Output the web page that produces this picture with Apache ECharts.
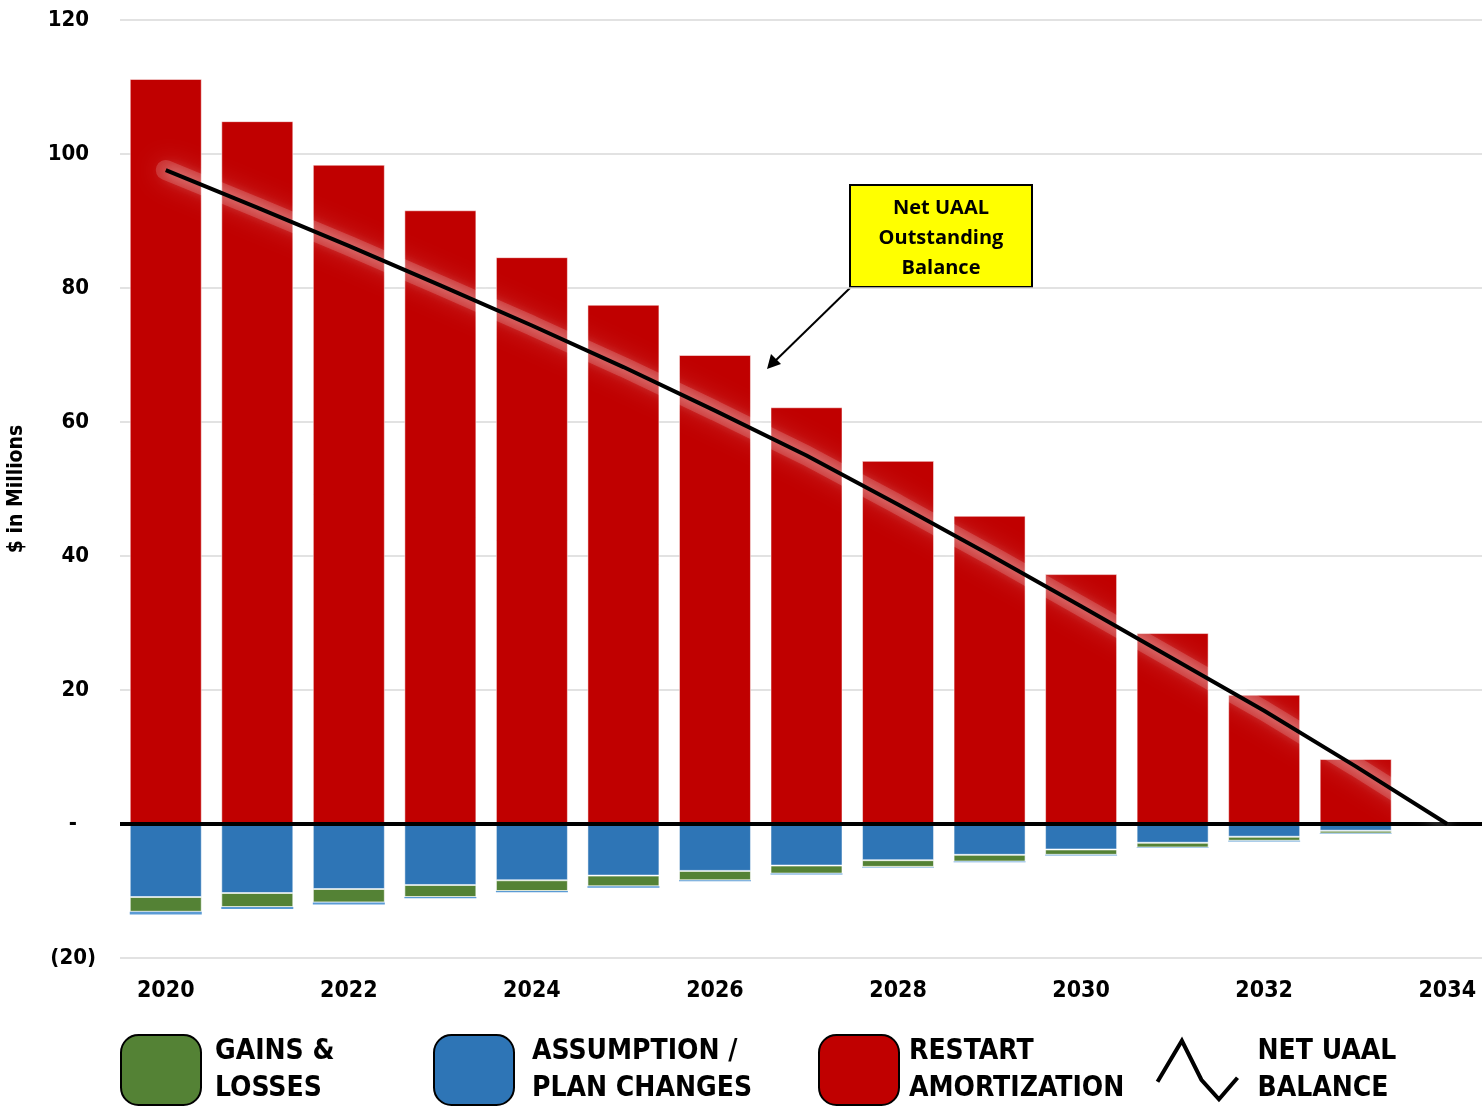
<!DOCTYPE html>
<html>
<head>
<meta charset="utf-8">
<script src="https://cdn.jsdelivr.net/npm/echarts@6/dist/echarts.min.js"></script>
<style>
  html, body { margin: 0; padding: 0; background: #fff; }
  #uaalChart { width: 1482px; height: 1106px; }
</style>
</head>
<body>
<div id="uaalChart"></div>
<script>
const years = ['2020', '2021', '2022', '2023', '2024', '2025', '2026', '2027', '2028', '2029', '2030', '2031', '2032', '2033', '2034']
const restartAmortization = [111.2, 104.9, 98.4, 91.6, 84.6, 77.5, 70.0, 62.2, 54.2, 46.0, 37.3, 28.5, 19.3, 9.7, 0]
const assumptionChanges = [-10.9, -10.3, -9.7, -9.1, -8.4, -7.7, -7.0, -6.2, -5.4, -4.6, -3.8, -2.8, -1.9, -1.0, 0]
const gainsLosses = [-2.2, -2.1, -2.0, -1.8, -1.6, -1.6, -1.4, -1.2, -1.0, -1.0, -0.8, -0.7, -0.6, -0.4, 0]
const otherChanges = [-0.4, -0.3, -0.3, -0.2, -0.2, -0.2, -0.15, -0.15, -0.1, -0.1, -0.1, -0.1, -0.1, -0.1, 0]
const netUaalBalance = [97.6, 92.0, 86.3, 80.4, 74.4, 68.2, 61.7, 55.0, 47.7, 40.2, 32.5, 24.7, 16.9, 8.6, 0]
const yTicks = { min: -20, max: 120, step: 20 }

const narrow = "'Liberation Sans Narrow', 'Arial Narrow', 'DejaVu Sans Condensed', sans-serif"

const legendNames = {
  'Gains & Losses': 'GAINS &\nLOSSES',
  'Assumption / Plan Changes': 'ASSUMPTION /\nPLAN CHANGES',
  'Restart Amortization': 'RESTART\nAMORTIZATION',
  'Net UAAL Balance': 'NET UAAL\nBALANCE'
}

function legendAt(name, left, icon, style, gap) {
  return {
    data: [name],
    left: left,
    top: 1033,
    padding: 0,
    orient: 'horizontal',
    selectedMode: false,
    itemWidth: 80,
    itemHeight: 70,
    icon: icon,
    itemStyle: style,
    formatter: (n) => legendNames[n],
    textStyle: {
      fontFamily: narrow,
      fontWeight: 'bold',
      fontSize: 28,
      lineHeight: 37,
      color: '#000',
      padding: [0, 0, 0, gap]
    }
  }
}

const boxStyle = { borderColor: '#000', borderWidth: 2 }

const chart = echarts.init(document.getElementById('uaalChart'))

chart.setOption({
  animation: false,
  grid: {
    left: 120,
    top: 20,
    width: 1373,
    height: 938,
    outerBoundsMode: 'none'
  },
  legend: [
    legendAt('Gains & Losses', 120, 'roundRect', boxStyle, 9),
    legendAt('Assumption / Plan Changes', 433, 'roundRect', boxStyle, 13),
    legendAt('Restart Amortization', 818, 'roundRect', boxStyle, 5),
    legendAt('Net UAAL Balance', 1155, 'path://M0,42 L25,0 L45,40 L63,60 L82,38', { color: 'none', borderColor: '#000', borderWidth: 4 }, 15)
  ],
  xAxis: {
    type: 'category',
    data: years,
    axisLine: { show: false, onZero: false },
    axisTick: { show: false },
    axisLabel: {
      interval: 1,
      margin: 22,
      color: '#000',
      fontFamily: narrow,
      fontWeight: 'bold',
      fontSize: 23
    }
  },
  yAxis: {
    type: 'value',
    min: yTicks.min,
    max: yTicks.max,
    interval: yTicks.step,
    name: '$ in Millions',
    nameLocation: 'middle',
    nameGap: 93,
    nameRotate: 90,
    nameTextStyle: {
      color: '#000',
      fontFamily: narrow,
      fontWeight: 'bold',
      fontSize: 21
    },
    axisLine: { show: false },
    axisTick: { show: false },
    splitLine: { lineStyle: { color: '#d9d9d9', width: 1.5 } },
    axisLabel: {
      margin: 24,
      formatter: (v) => {
        if (v > 0) return '{p|' + v + '}'
        if (v === 0) return '{z|-}'
        return '{n|(' + (-v) + ')}'
      },
      rich: {
        p: { padding: [0, 7, 0, 0], color: '#000', fontFamily: narrow, fontWeight: 'bold', fontSize: 22 },
        z: { padding: [0, 19, 0, 0], color: '#000', fontFamily: narrow, fontWeight: 'bold', fontSize: 22 },
        n: { color: '#000', fontFamily: narrow, fontWeight: 'bold', fontSize: 22 }
      }
    }
  },
  series: [
    {
      name: 'Restart Amortization',
      type: 'bar',
      stack: 'uaal',
      barWidth: 72,
      data: restartAmortization,
      itemStyle: { color: '#c00000', borderColor: 'rgba(255,255,255,0.5)', borderWidth: 1 }
    },
    {
      name: 'Assumption / Plan Changes',
      type: 'bar',
      stack: 'uaal',
      barWidth: 72,
      data: assumptionChanges,
      itemStyle: { color: '#2e75b6', borderColor: 'rgba(255,255,255,0.5)', borderWidth: 1 }
    },
    {
      name: 'Gains & Losses',
      type: 'bar',
      stack: 'uaal',
      barWidth: 72,
      data: gainsLosses,
      itemStyle: { color: '#548235', borderColor: 'rgba(255,255,255,0.6)', borderWidth: 1 }
    },
    {
      name: 'Other',
      type: 'bar',
      stack: 'uaal',
      barWidth: 72,
      data: otherChanges,
      itemStyle: { color: '#5b9bd5' }
    },
    {
      // soft white glow under the balance line
      name: 'Glow',
      type: 'line',
      data: netUaalBalance,
      symbol: 'none',
      silent: true,
      z: 4,
      lineStyle: {
        color: 'rgba(255,255,255,0.16)',
        width: 20,
        cap: 'round',
        shadowColor: 'rgba(255,255,255,0.9)',
        shadowBlur: 26
      }
    },
    {
      name: 'Net UAAL Balance',
      type: 'line',
      data: netUaalBalance,
      symbol: 'none',
      z: 5,
      lineStyle: {
        color: '#000',
        width: 4,
        shadowColor: 'rgba(255,255,255,0.8)',
        shadowBlur: 14
      },
      markLine: {
        silent: true,
        symbol: 'none',
        label: { show: false },
        lineStyle: { color: '#000', width: 4, type: 'solid', shadowBlur: 0 },
        data: [{ yAxis: 0 }]
      }
    }
  ],
  graphic: [
    {
      type: 'group',
      children: [
        {
          type: 'line',
          shape: { x1: 850, y1: 288, x2: 772, y2: 364 },
          style: { stroke: '#000', lineWidth: 2 }
        },
        {
          type: 'polygon',
          shape: { points: [[767, 369], [771, 354], [781, 364]] },
          style: { fill: '#000' }
        },
        {
          type: 'rect',
          shape: { x: 850, y: 185, width: 182, height: 102 },
          style: { fill: '#ffff00', stroke: '#000', lineWidth: 2 }
        },
        {
          type: 'text',
          x: 941,
          y: 238,
          style: {
            text: 'Net UAAL\nOutstanding\nBalance',
            align: 'center',
            verticalAlign: 'middle',
            fontFamily: "'Open Sans', sans-serif",
            fontWeight: 'bold',
            fontSize: 20,
            lineHeight: 30,
            fill: '#000'
          }
        }
      ]
    }
  ]
})
</script>
</body>
</html>
